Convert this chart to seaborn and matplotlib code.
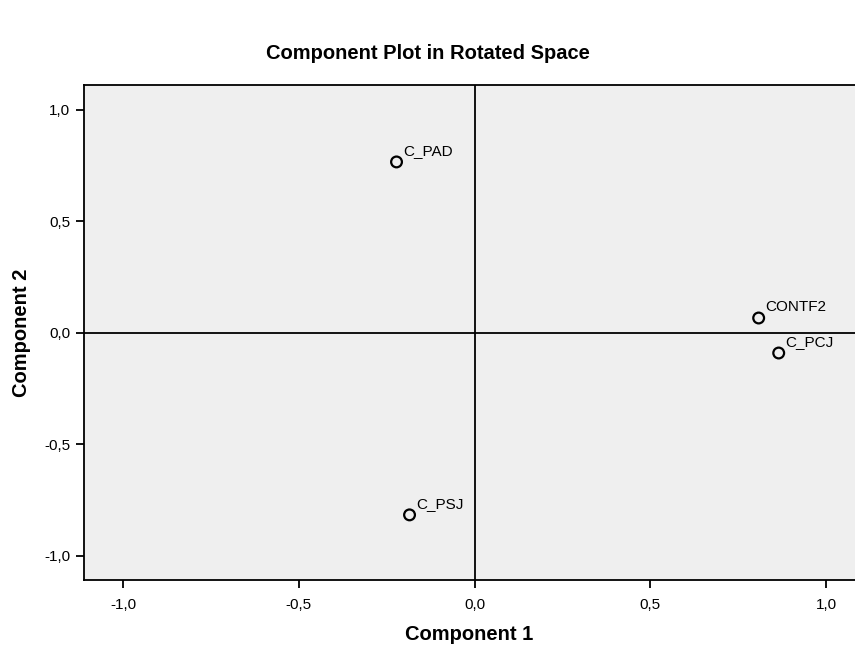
import pandas as pd
import seaborn as sns
import matplotlib.pyplot as plt
from matplotlib.ticker import FuncFormatter

variables = ["C_PAD", "C_PSJ", "CONTF2", "C_PCJ"]
component1 = [-0.222, -0.185, 0.808, 0.865]
component2 = [0.767, -0.816, 0.067, -0.090]
ticks = [-1.0, -0.5, 0.0, 0.5, 1.0]


def comma_fmt(v, pos):
    return f"{v:.1f}".replace(".", ",")


df = pd.DataFrame({"variable": variables, "c1": component1, "c2": component2})

sns.set_theme(style="white")
plt.rcParams["font.family"] = ["Liberation Sans", "DejaVu Sans"]
plt.rcParams["text.color"] = "black"
plt.rcParams["axes.labelcolor"] = "black"
plt.rcParams["xtick.color"] = "black"
plt.rcParams["ytick.color"] = "black"

fig = plt.figure(figsize=(8.55, 6.46), dpi=100)
ax = fig.add_axes([0.0982, 0.1022, 0.9018, 0.7662])
ax.set_facecolor("#efefef")

ax.axhline(0, color="black", linewidth=1.3, zorder=1)
ax.axvline(0, color="black", linewidth=1.3, zorder=1)

sns.scatterplot(data=df, x="c1", y="c2", ax=ax, s=60, marker="o",
                facecolor="none", edgecolor="black", linewidth=1.6, zorder=3)

for _, row in df.iterrows():
    ax.annotate(row["variable"], (row["c1"], row["c2"]), xytext=(5, 3),
                textcoords="offset points", fontsize=11, ha="left", va="bottom")

ax.set_xlim(-1.111, 1.082)
ax.set_ylim(-1.108, 1.112)
ax.set_xticks(ticks)
ax.set_yticks(ticks)
ax.xaxis.set_major_formatter(FuncFormatter(comma_fmt))
ax.yaxis.set_major_formatter(FuncFormatter(comma_fmt))
ax.tick_params(axis="x", length=6, width=1.3, labelsize=11, bottom=True, pad=7)
ax.tick_params(axis="y", length=6, width=1.3, labelsize=11, left=True, pad=4)

for side in ["left", "top", "bottom"]:
    ax.spines[side].set_color("black")
    ax.spines[side].set_linewidth(1.3)
ax.spines["right"].set_visible(False)

ax.set_xlabel("Component 1", fontsize=14.5, fontweight="bold", labelpad=9)
ax.set_ylabel("Component 2", fontsize=14.5, fontweight="bold", labelpad=9)
fig.suptitle("Component Plot in Rotated Space", fontsize=14.5, fontweight="bold", y=0.932)

fig.savefig("out.png", dpi=100)
